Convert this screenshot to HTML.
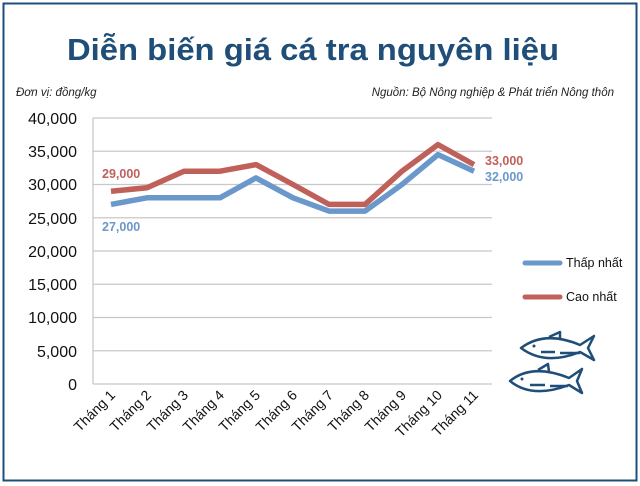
<!DOCTYPE html>
<html><head><meta charset="utf-8"><style>
body{margin:0;background:#fff;}
svg{display:block;font-family:"Liberation Sans",sans-serif;}
</style></head><body>
<svg width="640" height="486" viewBox="0 0 640 486">
<rect x="3.5" y="3.5" width="633" height="477" fill="#fff" stroke="#1f4e79" stroke-width="2"/>
<text x="313" y="60" text-anchor="middle" font-size="31" font-weight="bold" fill="#1f4e79" textLength="492" lengthAdjust="spacingAndGlyphs">Diễn biến giá cá tra nguyên liệu</text>
<text x="16" y="96" font-size="11.5" font-style="italic" fill="#222">Đơn vị: đồng/kg</text>
<text x="614" y="96" text-anchor="end" font-size="11.5" font-style="italic" fill="#222">Nguồn: Bộ Nông nghiệp &amp; Phát triển Nông thôn</text>
<g stroke="#c8c8c8" stroke-width="1.3">
<line x1="93" x2="492" y1="118" y2="118"/><line x1="93" x2="492" y1="151.25" y2="151.25"/>
<line x1="93" x2="492" y1="184.5" y2="184.5"/><line x1="93" x2="492" y1="217.75" y2="217.75"/>
<line x1="93" x2="492" y1="251" y2="251"/><line x1="93" x2="492" y1="284.25" y2="284.25"/>
<line x1="93" x2="492" y1="317.5" y2="317.5"/><line x1="93" x2="492" y1="350.75" y2="350.75"/>
<line x1="93" x2="492" y1="384" y2="384"/><line x1="93" x2="93" y1="118" y2="384"/>
</g>
<g font-size="16" text-anchor="end" fill="#111">
<text x="77" y="124">40,000</text><text x="77" y="157">35,000</text><text x="77" y="190">30,000</text>
<text x="77" y="224">25,000</text><text x="77" y="257">20,000</text><text x="77" y="290">15,000</text>
<text x="77" y="323">10,000</text><text x="77" y="357">5,000</text><text x="77" y="390">0</text>
</g>
<g font-size="14" text-anchor="end" fill="#111">
<text transform="translate(116,396) rotate(-45)">Tháng 1</text>
<text transform="translate(152,396) rotate(-45)">Tháng 2</text>
<text transform="translate(189,396) rotate(-45)">Tháng 3</text>
<text transform="translate(225,396) rotate(-45)">Tháng 4</text>
<text transform="translate(261,396) rotate(-45)">Tháng 5</text>
<text transform="translate(298,396) rotate(-45)">Tháng 6</text>
<text transform="translate(334,396) rotate(-45)">Tháng 7</text>
<text transform="translate(370,396) rotate(-45)">Tháng 8</text>
<text transform="translate(407,396) rotate(-45)">Tháng 9</text>
<text transform="translate(443,396) rotate(-45)">Tháng 10</text>
<text transform="translate(479,396) rotate(-45)">Tháng 11</text>
</g>
<polyline fill="none" stroke="#6a98cb" stroke-width="5.5" stroke-linejoin="round" points="111,204.4 147,197.8 184,197.8 220,197.8 256,177.9 293,197.8 329,211.1 365,211.1 402,184.5 438,154.6 474,171.2"/>
<polyline fill="none" stroke="#c0605a" stroke-width="5.5" stroke-linejoin="round" points="111,191.2 147,187.8 184,171.2 220,171.2 256,164.6 293,184.5 329,204.4 365,204.4 402,171.2 438,144.6 474,164.6"/>
<g font-size="12.5" font-weight="bold">
<text x="102" y="178" fill="#c0605a">29,000</text>
<text x="102" y="231" fill="#6a98cb">27,000</text>
<text x="485" y="165" fill="#c0605a">33,000</text>
<text x="485" y="181" fill="#6a98cb">32,000</text>
</g>
<line x1="525" x2="560" y1="263" y2="263" stroke="#6a98cb" stroke-width="5" stroke-linecap="round"/>
<line x1="525" x2="560" y1="297" y2="297" stroke="#c0605a" stroke-width="5" stroke-linecap="round"/>
<text x="566" y="267" font-size="12.5" fill="#111">Thấp nhất</text>
<text x="566" y="301" font-size="12.5" fill="#111">Cao nhất</text>
<g fill="none" stroke="#1f4e79" stroke-width="2.5" stroke-linejoin="round">
<path d="M521,348 Q545,330 580,345 L594,336 L588,348 L594,360 L580,352 Q545,366 521,348 Z"/>
<path d="M549,337 L560,332 L560,340"/>
<path d="M541,352 L555,352 M560,353 L580,353"/>
<path d="M510,381 Q532,363 569,378 L582,369 L577,381 L582,393 L569,385 Q532,399 510,381 Z"/>
<path d="M538,370 L548,364 L549,372"/>
<path d="M530,385 L545,385 M550,386 L568,386"/>
</g>
<circle cx="534" cy="346" r="1.5" fill="#1f4e79"/><circle cx="522" cy="379" r="1.5" fill="#1f4e79"/>
</svg>
</body></html>
